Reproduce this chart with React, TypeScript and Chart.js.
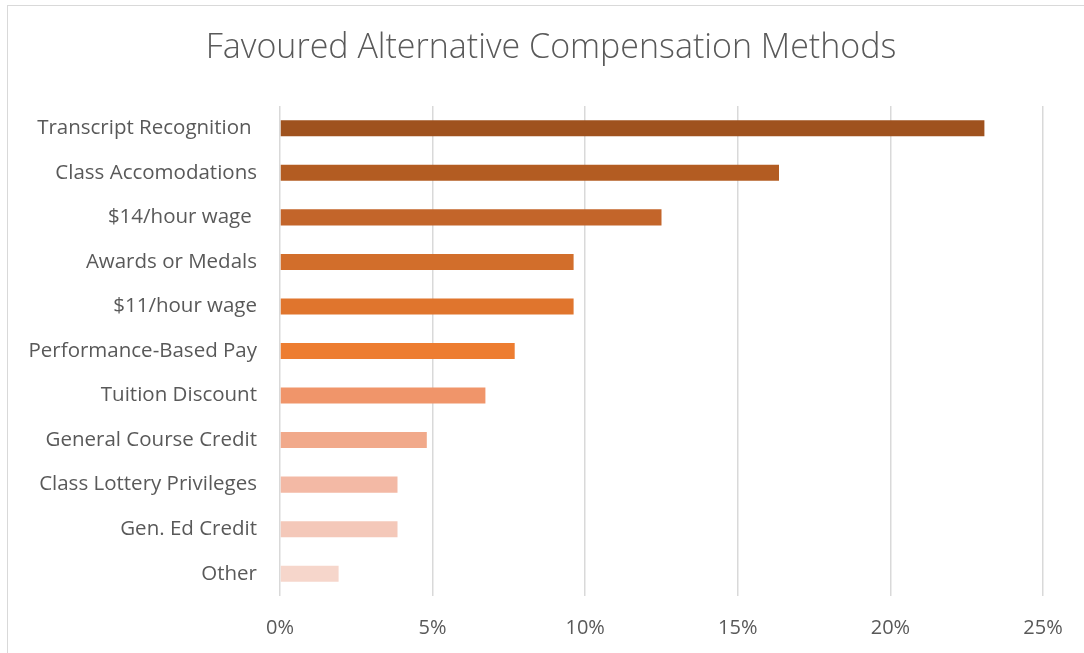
import React, { useEffect, useRef } from "react";
import { Chart, registerables } from "chart.js";

Chart.register(...registerables);

const categories = [
  "Transcript Recognition ",
  "Class Accomodations",
  "$14/hour wage ",
  "Awards or Medals",
  "$11/hour wage",
  "Performance-Based Pay",
  "Tuition Discount",
  "General Course Credit",
  "Class Lottery Privileges",
  "Gen. Ed Credit",
  "Other",
];

const shares = [23.08, 16.35, 12.5, 9.62, 9.62, 7.69, 6.73, 4.81, 3.85, 3.85, 1.92];

const barColors = [
  "#9F521E",
  "#B35C22",
  "#C3652A",
  "#D26E2B",
  "#E0752D",
  "#ED7D31",
  "#F0956A",
  "#F1A98A",
  "#F3B9A5",
  "#F4C8B9",
  "#F6D6CB",
];

const xTicks = [0, 5, 10, 15, 20, 25];

const titleText = "Favoured Alternative Compensation Methods";

const titlePlugin = {
  id: "centeredTitle",
  afterDraw(chart: any) {
    const ctx = chart.ctx;
    ctx.save();
    ctx.fillStyle = "#595959";
    ctx.font = "300 34px 'Open Sans'";
    ctx.textAlign = "center";
    ctx.textBaseline = "middle";
    ctx.fillText(titleText, 551, 48);
    ctx.restore();
  },
};

export default function App() {
  const ref = useRef<HTMLCanvasElement>(null);

  useEffect(() => {
    if (!ref.current) return;
    const chart = new Chart(ref.current, {
      type: "bar",
      data: {
        labels: categories,
        datasets: [
          {
            data: shares,
            backgroundColor: barColors,
            borderWidth: 0,
            barPercentage: 0.36,
            categoryPercentage: 1,
          },
        ],
      },
      plugins: [titlePlugin],
      options: {
        indexAxis: "y",
        animation: false,
        responsive: false,
        maintainAspectRatio: false,
        layout: { padding: { top: 106, right: 41, bottom: 0, left: 0 } },
        plugins: {
          legend: { display: false },
          tooltip: { enabled: false },
          title: { display: false },
        },
        scales: {
          x: {
            min: 0,
            max: 25,
            afterBuildTicks: (scale: any) => {
              scale.ticks = xTicks.map((v) => ({ value: v }));
            },
            afterFit: (scale: any) => {
              scale.height = 57;
            },
            grid: { color: "#d9d9d9", lineWidth: 1.5, drawTicks: false },
            border: { display: false },
            ticks: {
              padding: 20,
              color: "#595959",
              font: { family: "'Open Sans'", size: 20 },
              callback: (v: any) => v + "%",
            },
          },
          y: {
            afterFit: (scale: any) => {
              scale.width = 280;
            },
            grid: { display: false, drawTicks: false },
            border: { display: false },
            ticks: {
              padding: 23,
              color: "#595959",
              font: { family: "'Open Sans'", size: 20.5 },
            },
          },
        },
      },
    });
    return () => chart.destroy();
  }, []);

  return (
    <div style={{ position: "fixed", left: 0, top: 0, width: 1084, height: 653, background: "#fff", overflow: "hidden" }}>
      <div
        style={{
          position: "absolute",
          left: 7,
          top: 5,
          width: 1200,
          height: 800,
          border: "1px solid #d9d9d9",
        }}
      />
      <canvas ref={ref} width={1084} height={653} style={{ position: "absolute", left: 0, top: 0 }} />
    </div>
  );
}
